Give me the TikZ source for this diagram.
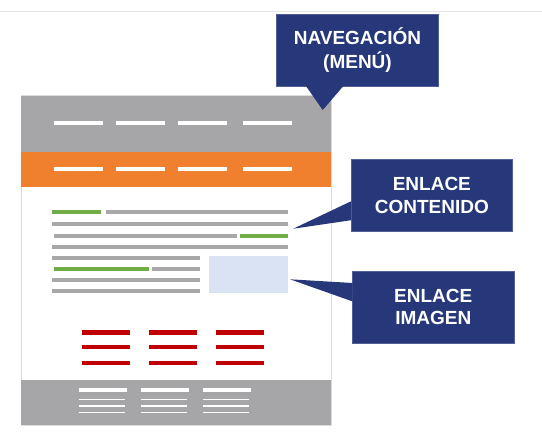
\documentclass[tikz,border=0pt]{standalone}
\usepackage{fontspec}
\setmainfont{Liberation Sans}
\definecolor{navy}{HTML}{26377A}
\definecolor{hdrgray}{HTML}{A6A6A8}
\definecolor{linegray}{HTML}{A8A8A8}
\definecolor{pagegray}{HTML}{DCDCDC}
\definecolor{toplinegray}{HTML}{E4E6EC}
\definecolor{orangebar}{HTML}{F07F2E}
\definecolor{greenbar}{HTML}{70AD47}
\definecolor{redbar}{HTML}{C00000}
\definecolor{imgblue}{HTML}{DAE3F3}
\tikzset{
  callout/.style={fill=navy, draw=navy!80!white, line width=0.6pt, inner sep=0pt, align=center,
    text=white, font=\bfseries\fontsize{19}{22.5}\selectfont},
  whitebar/.style={draw=white, line width=4pt},
  thinbar/.style={draw=white, line width=1.4pt},
  graybar/.style={draw=linegray, line width=4pt},
  greenline/.style={draw=greenbar, line width=4pt},
  redline/.style={draw=redbar, line width=4.5pt},
}
\begin{document}
\begin{tikzpicture}[x=1pt,y=-1pt]
\useasboundingbox (0,0) rectangle (542,444);
\fill[white] (0,0) rectangle (542,444);
\draw[toplinegray, line width=1pt] (0,12) -- (542,12);
% page
\path[fill=white, draw=pagegray, line width=1pt] (21,96) rectangle (331,425);
\fill[hdrgray] (21,96) rectangle (331,152);
\fill[orangebar] (21,152) rectangle (331,187);
\fill[hdrgray] (21,380) rectangle (331,425);
% menu dashes
\foreach \a/\b in {54.3/102.7,116/165,178/227,242.7/291.7}{
  \draw[whitebar] (\a,122.7) -- (\b,122.7);
  \draw[whitebar] (\a,168.7) -- (\b,168.7);
}
% content lines
\draw[greenline] (52.3,212) -- (101,212);
\draw[graybar] (106,212) -- (288.3,212);
\draw[graybar] (52.3,224.3) -- (288.3,224.3);
\draw[graybar] (53.7,235.7) -- (237.3,235.7);
\draw[greenline] (239.7,235.7) -- (288.3,235.7);
\draw[graybar] (52.3,247) -- (288.3,247);
\draw[graybar] (52.3,258) -- (200,258);
\draw[greenline] (54.3,268.7) -- (149.3,268.7);
\draw[graybar] (152,268.7) -- (200,268.7);
\draw[graybar] (52.3,280) -- (200,280);
\draw[graybar] (52.3,291.3) -- (200,291.3);
\fill[imgblue] (209.3,255.7) rectangle (288.3,293.3);
% red links
\foreach \a/\b in {81.7/130,148.7/197.3,215.7/264}{
  \draw[redline] (\a,332.3) -- (\b,332.3);
  \draw[redline] (\a,347) -- (\b,347);
  \draw[redline] (\a,363) -- (\b,363);
}
% footer
\foreach \a/\b in {78.7/127,141/189.3,202.7/251}{
  \draw[whitebar] (\a,390.3) -- (\b,390.3);
  \draw[thinbar] (\a,399.3) -- (\b-2,399.3);
  \draw[thinbar] (\a,406) -- (\b-2,406);
  \draw[thinbar] (\a,412.3) -- (\b-2,412.3);
}
% callouts
\node[callout, minimum width=161.6pt, minimum height=71.7pt,
  font=\bfseries\fontsize{19}{24.5}\selectfont] (nav) at (357.5,50) {NAVEGACIÓN\\(MENÚ)};
\node[callout, minimum width=161.7pt, minimum height=72pt] (con) at (431.85,195.5) {ENLACE\\CONTENIDO};
\node[callout, minimum width=162pt, minimum height=72.3pt] (img) at (433.3,307.15) {ENLACE\\IMAGEN};
\coordinate (navtip) at (322.7,110);
\coordinate (contip) at (293.3,228.7);
\coordinate (imgtip) at (290,279.3);
\fill[navy] ([xshift=29.3pt,yshift=0.5pt]nav.south west) -- (navtip) -- ([xshift=67.3pt,yshift=0.5pt]nav.south west) -- cycle;
\fill[navy] ([xshift=0.5pt,yshift=-42pt]con.north west) -- (contip) -- ([xshift=0.5pt,yshift=-61pt]con.north west) -- cycle;
\fill[navy] ([xshift=0.5pt,yshift=-12.3pt]img.north west) -- (imgtip) -- ([xshift=0.5pt,yshift=-30.7pt]img.north west) -- cycle;
\end{tikzpicture}
\end{document}
